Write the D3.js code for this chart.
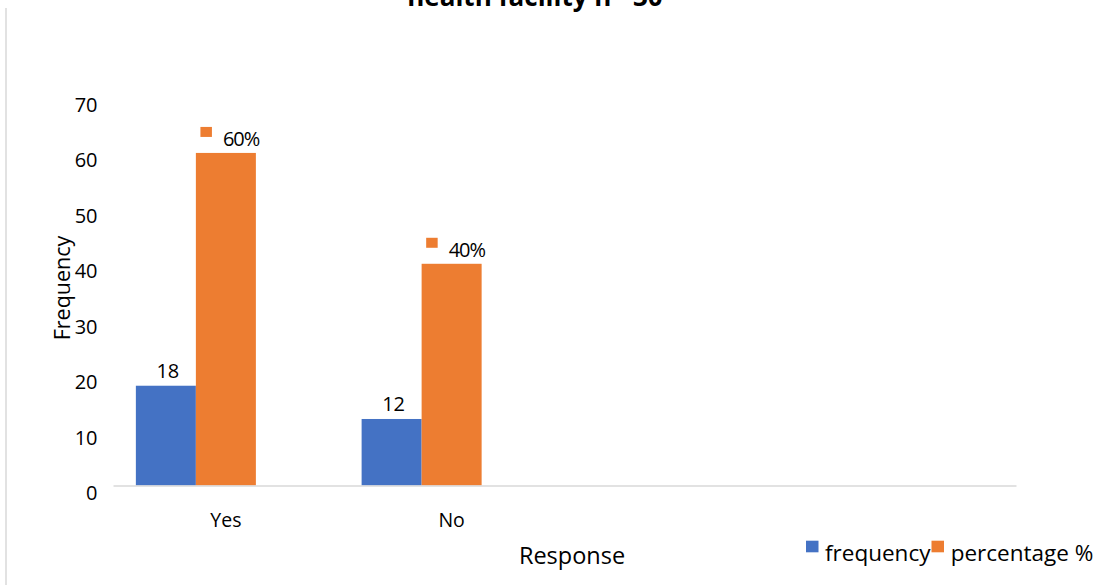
<!DOCTYPE html>
<html>
<head>
<meta charset="utf-8">
<script src="https://cdn.jsdelivr.net/npm/d3@7"></script>
<style>
  html, body { margin: 0; padding: 0; background: #fff; }
  svg { display: block; font-family: "Open Sans", "Liberation Sans", sans-serif; }
</style>
</head>
<body>
<svg id="chart" width="1112" height="585"></svg>
<script>
// Responses and their counts / shares
const categories = ["Yes", "No"];
const frequency = [18, 12];
const percentage = [60, 40];
const seriesNames = ["frequency", "percentage %"];
const yTicks = [0, 10, 20, 30, 40, 50, 60, 70];
const titleText = "health facility n= 30";
const xTitle = "Response";
const yTitle = "Frequency";

const colors = { frequency: "#4472C4", percentage: "#ED7D31" };

const svg = d3.select("#chart");

// Frame edge on the left side
svg.append("line")
  .attr("x1", 6).attr("x2", 6).attr("y1", 8).attr("y2", 585)
  .attr("stroke", "#d9d9d9").attr("stroke-width", 1.5);

// Title (second line only shows at the top edge)
svg.append("text")
  .attr("x", 535).attr("y", 6)
  .attr("text-anchor", "middle")
  .attr("font-weight", "bold")
  .attr("font-size", 26)
  .attr("fill", "#000")
  .text(titleText);

// Category axis has four slots; the last two are empty
const slotCount = 4;
const x0 = d3.scaleBand()
  .domain(d3.range(slotCount))
  .range([113, 1016])
  .paddingInner(0).paddingOuter(0);

// Three series slots per category (third column is blank)
const x1 = d3.scaleBand()
  .domain([0, 1, 2])
  .range([0, x0.bandwidth()])
  .paddingInner(0).paddingOuter(0.381);

const y = d3.scaleLinear().domain([0, 70]).range([485.5, 97.5]);

// Y axis labels
const yAxis = svg.append("g")
  .attr("transform", "translate(97.5,0)")
  .call(d3.axisLeft(y).tickValues(yTicks).tickSize(0).tickPadding(0));
yAxis.select(".domain").remove();
yAxis.selectAll("text")
  .attr("dy", null).attr("y", 14)
  .attr("font-size", 20).attr("font-family", "Open Sans, sans-serif")
  .attr("fill", "#000");

// Bars
const rows = categories.map((c, i) => ({ i, c, f: frequency[i], p: percentage[i] }));

const groups = svg.append("g").selectAll("g")
  .data(rows).join("g")
  .attr("transform", d => `translate(${x0(d.i)},0)`);

groups.append("rect")
  .attr("x", x1(0)).attr("width", x1.bandwidth())
  .attr("y", d => y(d.f)).attr("height", d => y(0) - y(d.f))
  .attr("fill", colors.frequency);

groups.append("rect")
  .attr("x", x1(1)).attr("width", x1.bandwidth())
  .attr("y", d => y(d.p)).attr("height", d => y(0) - y(d.p))
  .attr("fill", colors.percentage);

// Frequency value labels
groups.append("text")
  .attr("x", x1(0) + x1.bandwidth() / 2 + 2)
  .attr("y", d => y(d.f) - 8)
  .attr("text-anchor", "middle")
  .attr("font-size", 20).attr("fill", "#000")
  .text(d => d.f);

// Percentage value labels with a small legend key
groups.each(function (d) {
  const g = d3.select(this);
  const lab = g.append("g");
  const t = lab.append("text")
    .attr("x", 22.5).attr("y", 0)
    .attr("font-size", 20).attr("fill", "#000")
    .attr("letter-spacing", -1)
    .text(d.p + "%");
  lab.append("rect")
    .attr("x", 0).attr("y", -19).attr("width", 11.5).attr("height", 10)
    .attr("fill", colors.percentage);
  const w = 22.5 + t.node().getComputedTextLength();
  const cx = x1(1) + x1.bandwidth() / 2 + 4;
  lab.attr("transform", `translate(${cx - w / 2},${y(d.p) - 7})`);
});

// X axis
const xAxis = svg.append("g")
  .attr("transform", `translate(0,${y(0)})`)
  .call(d3.axisBottom(x0).tickSize(0).tickSizeOuter(0)
    .tickFormat(i => categories[i] || ""));
xAxis.select(".domain").attr("stroke", "#d9d9d9").attr("stroke-width", 1.5);
xAxis.selectAll("text")
  .attr("dy", null).attr("y", 41)
  .attr("font-size", 19.5).attr("font-family", "Open Sans, sans-serif")
  .attr("fill", "#000");

// Axis titles
svg.append("text")
  .attr("x", 572).attr("y", 563.5)
  .attr("text-anchor", "middle")
  .attr("font-size", 23.5).attr("fill", "#000")
  .text(xTitle);

svg.append("text")
  .attr("transform", "translate(70,288) rotate(-90)")
  .attr("text-anchor", "middle")
  .attr("font-size", 21.5).attr("fill", "#000")
  .text(yTitle);

// Legend
const legendItems = [
  { name: seriesNames[0], color: colors.frequency, x: 806 },
  { name: seriesNames[1], color: colors.percentage, x: 931.5 }
];
const legend = svg.append("g").selectAll("g")
  .data(legendItems).join("g")
  .attr("transform", d => `translate(${d.x},0)`);
legend.append("rect")
  .attr("x", 0).attr("y", 540.7).attr("width", 12.5).attr("height", 11.6)
  .attr("fill", d => d.color);
legend.append("text")
  .attr("x", (d, i) => i === 0 ? 19 : 19.2).attr("y", 560.7)
  .attr("font-size", 22.5).attr("fill", "#000")
  .text(d => d.name);
</script>
</body>
</html>
